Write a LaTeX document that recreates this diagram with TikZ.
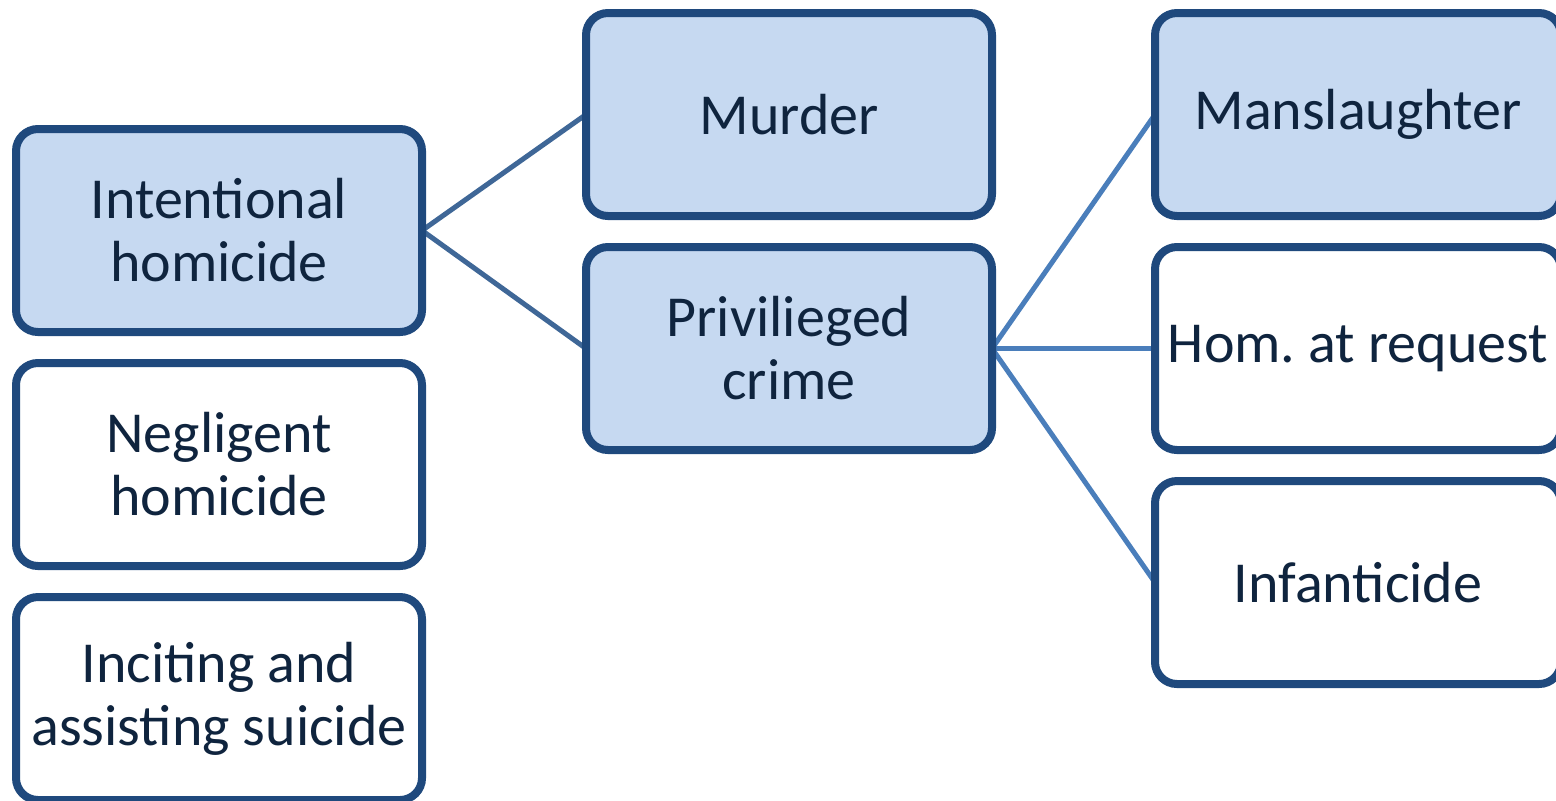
\documentclass[tikz,border=0pt]{standalone}
\usepackage{fontspec}
\setmainfont{Carlito}
\frenchspacing
\usetikzlibrary{backgrounds}
\definecolor{bordc}{HTML}{1F497D}
\definecolor{fillc}{HTML}{C6D9F1}
\definecolor{txtc}{HTML}{0F243E}
\definecolor{linec}{HTML}{3F6797}
\definecolor{linec2}{HTML}{4A7EBB}
\begin{document}
\begin{tikzpicture}[x=0.5pt,y=-0.5pt,
  box/.style={draw=bordc, line width=4pt, rounded corners=11pt, minimum width=203pt, minimum height=101.5pt, outer sep=0pt, inner sep=0pt, align=center, text=txtc, font=\fontsize{29pt}{31.5pt}\selectfont, fill=white},
  hbox/.style={box, fill=fillc},
  conn/.style={draw=linec, line width=2.5pt},
  conn2/.style={draw=linec2, line width=2.5pt}]
\useasboundingbox (0,0) rectangle (1556,800);
\clip (0,0) rectangle (1556,800);
\node[hbox] (ih) at (219,230.5) {Intentional\\homicide};
\node[box] (nh) at (219,464.5) {Negligent\\homicide};
\node[box] (ia) at (219,698.5) {Inciting and\\assisting suicide};
\node[hbox] (mu) at (789,114.5) {Murder};
\node[hbox] (pc) at (789,348.5) {Privilieged\\crime};
\node[hbox] (ms) at (1358,114.5) {Manslaughter};
\node[box] (hr) at (1358,348.5) {Hom.\ at request};
\node[box] (inf) at (1358,582.5) {Infanticide};
\begin{scope}[on background layer]
\draw[conn] (ih.east) -- (mu.west);
\draw[conn] (ih.east) -- (pc.west);
\draw[conn2] (pc.east) -- (ms.west);
\draw[conn2] (pc.east) -- (hr.west);
\draw[conn2] (pc.east) -- (inf.west);
\end{scope}
\end{tikzpicture}
\end{document}
